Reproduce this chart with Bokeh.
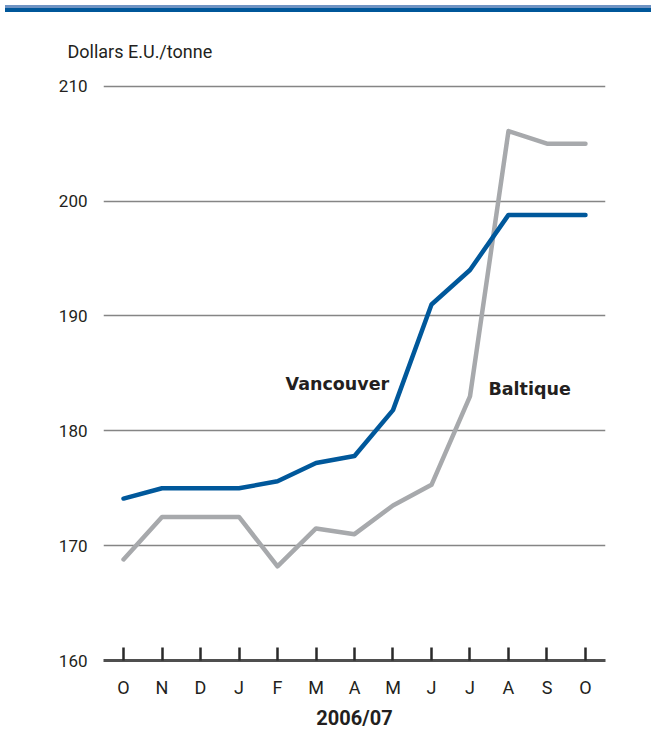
from bokeh.plotting import figure
from bokeh.models import FixedTicker, Label, Div, ColumnDataSource, Title
from bokeh.layouts import column
from bokeh.embed import file_html
from bokeh.resources import INLINE

months = ["O", "N", "D", "J", "F", "M", "A", "M", "J", "J", "A", "S", "O"]
vancouver = [174.1, 175.0, 175.0, 175.0, 175.6, 177.2, 177.8, 181.8, 191.0, 194.0, 198.8, 198.8, 198.8]
baltique = [168.8, 172.5, 172.5, 172.5, 168.2, 171.5, 171.0, 173.5, 175.3, 183.0, 206.1, 205.0, 205.0]
y_ticks = [160, 170, 180, 190, 200, 210]

FONT = "Roboto"
BFONT = "DejaVu Sans"
TXT = "#231F20"
BLUE = "#00589B"
GREY = "#A7A9AC"

xs = list(range(len(months)))
src = ColumnDataSource(dict(x=xs, v=vancouver, b=baltique))

p = figure(width=646, height=716, output_backend="svg", toolbar_location=None,
           x_range=(-0.52, 12.52), y_range=(160, 210.5),
           min_border_left=103, min_border_right=41, min_border_top=63, min_border_bottom=73)
p.outline_line_color = None
p.background_fill_color = "white"
p.border_fill_color = "white"

p.title = Title(text="Dollars E.U./tonne", align="left", offset=-36, standoff=38,
                text_font=FONT, text_font_size="18px", text_font_style="normal", text_color=TXT)

p.xgrid.visible = False
p.ygrid.ticker = FixedTicker(ticks=[170, 180, 190, 200, 210])
p.ygrid.grid_line_color = "#858585"
p.ygrid.grid_line_width = 1.3

# left axis
p.yaxis.ticker = FixedTicker(ticks=y_ticks)
p.yaxis.axis_line_color = None
p.yaxis.major_tick_line_color = None
p.yaxis.minor_tick_line_color = None
p.yaxis.major_label_standoff = 10
p.yaxis.major_label_text_font = FONT
p.yaxis.major_label_text_font_size = "17px"
p.yaxis.major_label_text_color = TXT

# bottom axis
p.xaxis.ticker = FixedTicker(ticks=xs)
p.xaxis.major_label_overrides = {i: m for i, m in enumerate(months)}
p.xaxis.axis_line_color = "#4F4F4F"
p.xaxis.axis_line_width = 3
p.xaxis.major_tick_line_color = "#2A2A2A"
p.xaxis.major_tick_line_width = 2.5
p.xaxis.major_tick_in = 13
p.xaxis.major_tick_out = 0
p.xaxis.minor_tick_line_color = None
p.xaxis.major_label_standoff = 16
p.xaxis.major_label_text_font = FONT
p.xaxis.major_label_text_font_size = "18px"
p.xaxis.major_label_text_color = TXT
p.xaxis.axis_label = "2006/07"
p.xaxis.axis_label_text_font = FONT
p.xaxis.axis_label_text_font_style = "bold"
p.xaxis.axis_label_text_font_size = "20px"
p.xaxis.axis_label_text_color = TXT
p.xaxis.axis_label_standoff = 5

p.line("x", "b", source=src, line_color=GREY, line_width=4.5, line_cap="round", line_join="round")
p.line("x", "v", source=src, line_color=BLUE, line_width=4.5, line_cap="round", line_join="round")

p.add_layout(Label(x=4.21, y=184.1, text="Vancouver", text_font=BFONT, text_font_style="bold",
                   text_font_size="17.5px", text_color=TXT, text_baseline="middle"))
p.add_layout(Label(x=9.48, y=183.6, text="Baltique", text_font=BFONT, text_font_style="bold",
                   text_font_size="17.5px", text_color=TXT, text_baseline="middle"))

bar = Div(width=646, height=7, styles={"background-color": "#00579A", "border-top": "3px solid #6F93C3"})

layout = column(bar, p, spacing=0)
open("out.html", "w").write(file_html(layout, INLINE))
